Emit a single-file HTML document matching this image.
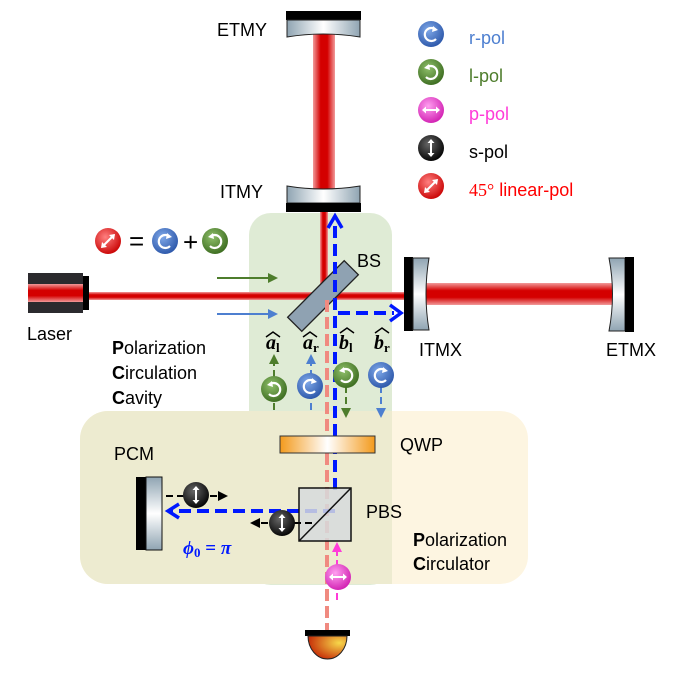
<!DOCTYPE html>
<html><head><meta charset="utf-8"><style>
html,body{margin:0;padding:0;background:#fff;}
svg{display:block;font-family:"Liberation Sans",sans-serif;}
</style></head><body>
<svg width="675" height="673" viewBox="0 0 675 673" xmlns="http://www.w3.org/2000/svg">
<defs>
<linearGradient id="glassV" x1="0" y1="0" x2="0" y2="1"><stop offset="0" stop-color="#8fa4b2"/><stop offset="0.5" stop-color="#ffffff"/><stop offset="1" stop-color="#8fa4b2"/></linearGradient>
<linearGradient id="glassH" x1="0" y1="0" x2="1" y2="0"><stop offset="0" stop-color="#8fa4b2"/><stop offset="0.5" stop-color="#ffffff"/><stop offset="1" stop-color="#8fa4b2"/></linearGradient>
<linearGradient id="beamV" x1="0" y1="0" x2="1" y2="0"><stop offset="0" stop-color="#f29a9a"/><stop offset="0.35" stop-color="#d40000"/><stop offset="0.65" stop-color="#d40000"/><stop offset="1" stop-color="#f29a9a"/></linearGradient>
<linearGradient id="beamH" x1="0" y1="0" x2="0" y2="1"><stop offset="0" stop-color="#f29a9a"/><stop offset="0.35" stop-color="#d40000"/><stop offset="0.65" stop-color="#d40000"/><stop offset="1" stop-color="#f29a9a"/></linearGradient>
<linearGradient id="qwp" x1="0" y1="0" x2="1" y2="0"><stop offset="0" stop-color="#f39a1c"/><stop offset="0.5" stop-color="#ffffff"/><stop offset="1" stop-color="#f39a1c"/></linearGradient>
<radialGradient id="det" cx="0.8" cy="0.3" r="0.9"><stop offset="0" stop-color="#f7d84a"/><stop offset="1" stop-color="#c01a00"/></radialGradient>
<radialGradient id="gB" cx="0.4" cy="0.35" r="0.7"><stop offset="0" stop-color="#7fa8e8"/><stop offset="1" stop-color="#2a55a8"/></radialGradient>
<radialGradient id="gG" cx="0.4" cy="0.35" r="0.7"><stop offset="0" stop-color="#8fbf6a"/><stop offset="1" stop-color="#3a6a1e"/></radialGradient>
<radialGradient id="gP" cx="0.4" cy="0.35" r="0.7"><stop offset="0" stop-color="#ff9ff0"/><stop offset="1" stop-color="#d01cb0"/></radialGradient>
<radialGradient id="gK" cx="0.4" cy="0.35" r="0.7"><stop offset="0" stop-color="#666"/><stop offset="1" stop-color="#000"/></radialGradient>
<radialGradient id="gR" cx="0.4" cy="0.35" r="0.7"><stop offset="0" stop-color="#ff8080"/><stop offset="1" stop-color="#c80000"/></radialGradient>
<marker id="ah" viewBox="0 0 10 10" refX="8" refY="5" markerWidth="5" markerHeight="5" orient="auto"><path d="M0,0L10,5L0,10z" fill="context-stroke"/></marker>
<g id="rpol"><circle r="13" fill="url(#gB)"/><path d="M5,-4 A6.5,6.5 0 1 0 5,5" fill="none" stroke="#fff" stroke-width="2.2"/><path d="M2,-8 L7,-4 L1,-2z" fill="#fff"/></g>
<g id="lpol"><circle r="13" fill="url(#gG)"/><path d="M-5,-4 A6.5,6.5 0 1 1 -5,5" fill="none" stroke="#fff" stroke-width="2.2"/><path d="M-2,-8 L-7,-4 L-1,-2z" fill="#fff"/></g>
<g id="ppol"><circle r="13" fill="url(#gP)"/><path d="M-8,0H8" stroke="#fff" stroke-width="2"/><path d="M-9,0l4,-3.5v7z M9,0l-4,-3.5v7z" fill="#fff"/></g>
<g id="spol"><circle r="13" fill="url(#gK)"/><path d="M0,-8V8" stroke="#fff" stroke-width="2"/><path d="M0,-9l-3.5,4h7z M0,9l-3.5,-4h7z" fill="#fff"/></g>
<g id="dpol"><circle r="13" fill="url(#gR)"/><path d="M-6,6L6,-6" stroke="#fff" stroke-width="2"/><path d="M-7,7l1,-6l5,5z M7,-7l-1,6l-5,-5z" fill="#fff"/></g>
</defs>

<!-- boxes -->
<rect x="80" y="411" width="448" height="173" rx="28" fill="#fdf5e1"/>
<rect x="249" y="213" width="143" height="372" rx="22" fill="#dfebd5"/>
<path d="M108,411H392V584H108A28,28 0 0 1 80,556V439A28,28 0 0 1 108,411z" fill="#edebd0"/>

<!-- Y arm beam -->
<rect x="313" y="30" width="22" height="165" fill="url(#beamV)"/>
<rect x="320" y="205" width="8" height="92" fill="url(#beamV)"/>
<!-- X arm beams -->
<rect x="89" y="292" width="320" height="8" fill="url(#beamH)"/>
<rect x="425" y="283" width="190" height="22" fill="url(#beamH)"/>

<!-- Laser -->
<rect x="28" y="273" width="55" height="40" fill="#2b2a2e"/>
<rect x="28" y="284" width="55" height="18" fill="url(#beamH)"/>
<rect x="83" y="276" width="6" height="34" fill="#000"/>

<!-- ETMY -->
<rect x="286" y="11" width="75" height="9" fill="#000"/>
<path d="M287,20H360V37Q323,31 287,37z" fill="url(#glassH)" stroke="#222"/>
<!-- ITMY -->
<path d="M287,186Q323,192 360,186V203H287z" fill="url(#glassH)" stroke="#222"/>
<rect x="286" y="203" width="75" height="9" fill="#000"/>
<!-- ITMX -->
<rect x="404" y="257" width="9" height="74" fill="#000"/>
<path d="M413,258H429Q423,294 429,330H413z" fill="url(#glassV)" stroke="#222"/>
<!-- ETMX -->
<path d="M609,258H625V331H609Q616,294 609,258z" fill="url(#glassV)" stroke="#222"/>
<rect x="625" y="257" width="9" height="75" fill="#000"/>

<!-- BS -->
<g transform="translate(323,296) rotate(-45)"><rect x="-40" y="-10" width="80" height="20" fill="#8fa2b2" stroke="#222" stroke-width="1.3"/></g>

<!-- salmon dashed -->
<line x1="327" y1="300" x2="327" y2="630" stroke="#f08a80" stroke-width="4" stroke-dasharray="12,5"/>
<!-- blue dashed -->
<path d="M335,490V222" stroke="#0018ff" stroke-width="4" stroke-dasharray="12,6" fill="none"/>
<path d="M328,228L335,216L342,228" stroke="#0018ff" stroke-width="3.5" fill="none"/>
<path d="M338,313H394" stroke="#0018ff" stroke-width="4" stroke-dasharray="12,6" fill="none"/>
<path d="M390,305L401,313L390,321" stroke="#0018ff" stroke-width="3.5" fill="none"/>
<path d="M335,511H170" stroke="#0018ff" stroke-width="4" stroke-dasharray="12,6" fill="none"/>
<path d="M179,504L168,511L179,518" stroke="#0018ff" stroke-width="3.5" fill="none"/>

<!-- input arrows -->
<line x1="217" y1="278" x2="276" y2="278" stroke="#4e7d2c" stroke-width="2" marker-end="url(#ah)"/>
<line x1="217" y1="314" x2="276" y2="314" stroke="#4d7fd0" stroke-width="2" marker-end="url(#ah)"/>

<!-- field arrows -->
<g stroke-width="2" stroke-dasharray="7,4">
<line x1="274" y1="410" x2="274" y2="356" stroke="#4e7d2c" marker-end="url(#ah)"/>
<line x1="311" y1="410" x2="311" y2="356" stroke="#4d7fd0" marker-end="url(#ah)"/>
<line x1="346" y1="364" x2="346" y2="416" stroke="#4e7d2c" marker-end="url(#ah)"/>
<line x1="381" y1="364" x2="381" y2="416" stroke="#4d7fd0" marker-end="url(#ah)"/>
</g>
<use href="#lpol" x="274" y="389"/>
<use href="#rpol" x="310" y="386"/>
<use href="#lpol" x="346" y="375"/>
<use href="#rpol" x="381" y="375"/>

<g font-family="Liberation Serif,serif" font-weight="bold" font-style="italic" font-size="20" fill="#000">
<text x="266" y="349">a<tspan font-size="13" font-style="normal" dy="3">l</tspan></text>
<text x="303" y="349">a<tspan font-size="13" font-style="normal" dy="3">r</tspan></text>
<text x="339" y="349">b<tspan font-size="13" font-style="normal" dy="3">l</tspan></text>
<text x="374" y="349">b<tspan font-size="13" font-style="normal" dy="3">r</tspan></text>
</g>
<g fill="none" stroke="#000" stroke-width="1.5">
<path d="M266,337l7,-5l7,5"/><path d="M303,337l7,-5l7,5"/><path d="M340,333l7,-5l7,5"/><path d="M375,333l7,-5l7,5"/>
</g>

<!-- QWP -->
<rect x="280" y="436" width="95" height="17" fill="url(#qwp)" stroke="#333"/>
<!-- PBS -->
<rect x="299" y="488" width="52" height="53" fill="#d6dadd" fill-opacity="0.85" stroke="#111" stroke-width="1.5"/>
<line x1="299" y1="541" x2="351" y2="488" stroke="#111" stroke-width="1.5"/>
<!-- PCM -->
<rect x="136" y="477" width="10" height="73" fill="#000"/>
<rect x="146" y="477" width="16" height="73" fill="url(#glassV)" stroke="#111"/>

<!-- s-pol arrows -->
<g stroke="#000" stroke-width="2" stroke-dasharray="7,4">
<line x1="166" y1="496" x2="226" y2="496" marker-end="url(#ah)"/>
<line x1="312" y1="523" x2="252" y2="523" marker-end="url(#ah)"/>
</g>
<use href="#spol" x="196" y="495"/>
<use href="#spol" x="282" y="523"/>
<!-- p-pol -->
<line x1="337" y1="600" x2="337" y2="544" stroke="#ff3bd8" stroke-width="2" stroke-dasharray="7,4" marker-end="url(#ah)"/>
<use href="#ppol" x="338" y="577"/>

<!-- detector -->
<rect x="305" y="630" width="45" height="6" fill="#000"/>
<path d="M308,636H347A19.5,23 0 0 1 308,636z" fill="url(#det)" stroke="#222"/>

<!-- equation -->
<use href="#dpol" x="108" y="241"/>
<text x="129" y="250" font-size="26" fill="#000">=</text>
<use href="#rpol" x="165" y="241"/>
<text x="183" y="251" font-size="26" fill="#000">+</text>
<use href="#lpol" x="215" y="241"/>

<!-- legend -->
<use href="#rpol" x="431" y="34"/>
<use href="#lpol" x="431" y="72"/>
<use href="#ppol" x="431" y="110"/>
<use href="#spol" x="431" y="148"/>
<use href="#dpol" x="431" y="186"/>
<g font-size="18">
<text x="469" y="44" fill="#4d7fd0">r-pol</text>
<text x="469" y="82" fill="#4e7d2c">l-pol</text>
<text x="469" y="120" fill="#ff3bd8">p-pol</text>
<text x="469" y="158" fill="#000">s-pol</text>
<text x="469" y="196" fill="#ff0000"><tspan font-family="Liberation Serif,serif">45°</tspan> linear-pol</text>
</g>

<!-- labels -->
<g font-size="18" fill="#000">
<text x="217" y="36">ETMY</text>
<text x="220" y="198">ITMY</text>
<text x="357" y="267">BS</text>
<text x="27" y="340">Laser</text>
<text x="419" y="356">ITMX</text>
<text x="606" y="356">ETMX</text>
<text x="112" y="354"><tspan font-weight="bold">P</tspan>olarization</text>
<text x="112" y="379"><tspan font-weight="bold">C</tspan>irculation</text>
<text x="112" y="404"><tspan font-weight="bold">C</tspan>avity</text>
<text x="114" y="460">PCM</text>
<text x="400" y="451">QWP</text>
<text x="366" y="518">PBS</text>
<text x="413" y="546"><tspan font-weight="bold">P</tspan>olarization</text>
<text x="413" y="570"><tspan font-weight="bold">C</tspan>irculator</text>
</g>
<text x="183" y="554" font-family="Liberation Serif,serif" font-weight="bold" font-style="italic" font-size="19" fill="#0018ff">ϕ<tspan font-size="13" font-style="normal" dy="3">0</tspan><tspan dy="-3" font-style="normal"> = </tspan>π</text>
</svg>
</body></html>
